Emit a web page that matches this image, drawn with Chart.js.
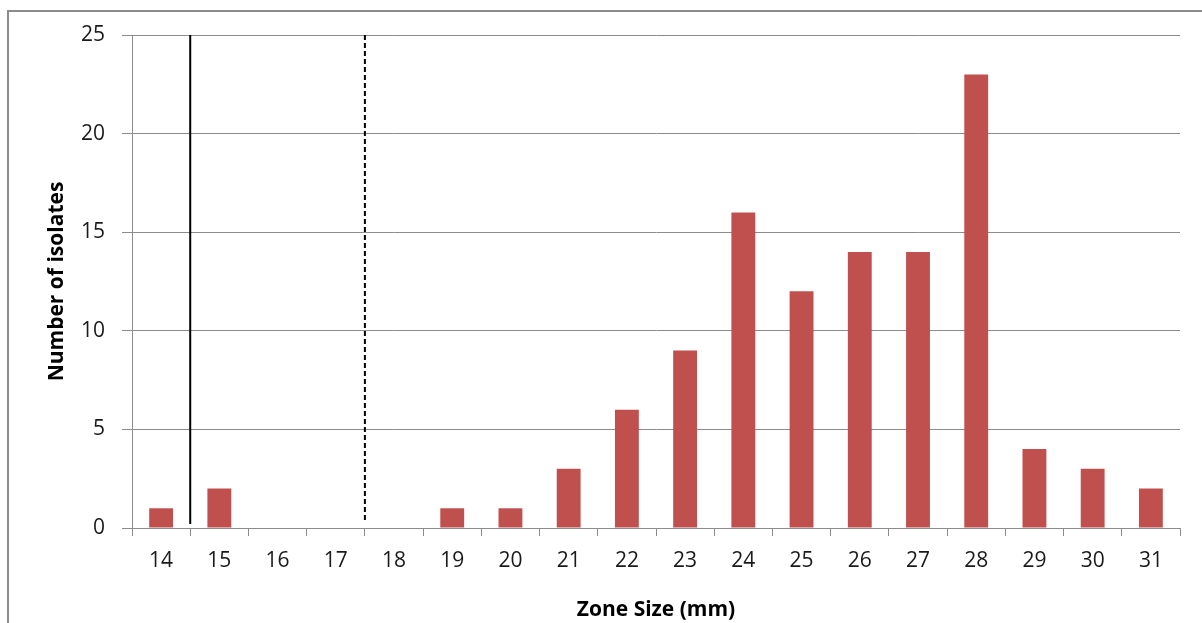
<!DOCTYPE html>
<html>
<head>
<meta charset="utf-8">
<script src="https://cdn.jsdelivr.net/npm/chart.js@4/dist/chart.umd.min.js"></script>
<style>
  html, body { margin: 0; padding: 0; background: #fff; }
  #wrap { width: 1202px; height: 623px; position: relative; }
</style>
</head>
<body>
<div id="wrap"><canvas id="c" width="1202" height="623"></canvas></div>
<script>
const categories = ['14','15','16','17','18','19','20','21','22','23','24','25','26','27','28','29','30','31'];
const isolates = [1, 2, 0, 0, 0, 1, 1, 3, 6, 9, 16, 12, 14, 14, 23, 4, 3, 2];
const yTicks = [0, 5, 10, 15, 20, 25];
// breakpoint lines, in category-index units (between 14|15 and 17|18)
const solidBreakpoint = 0.5;
const dashedBreakpoint = 3.5;

const FONT = '"Open Sans", "Liberation Sans", sans-serif';

const frame = {
  id: 'frame',
  beforeDraw(chart) {
    const ctx = chart.ctx;
    ctx.save();
    ctx.fillStyle = '#fff';
    ctx.fillRect(0, 0, chart.width, chart.height);
    ctx.strokeStyle = '#8c8c8c';
    ctx.lineWidth = 2;
    ctx.strokeRect(8, 11, 1200, 700);
    ctx.restore();
  }
};

const breakLines = {
  id: 'breakLines',
  afterDatasetsDraw(chart) {
    const ctx = chart.ctx;
    const x = chart.scales.x;
    const a = chart.chartArea;
    ctx.save();
    ctx.strokeStyle = '#000';
    ctx.lineWidth = 2;
    let px = x.getPixelForValue(solidBreakpoint);
    ctx.beginPath();
    ctx.moveTo(px, a.top);
    ctx.lineTo(px, a.bottom - 4);
    ctx.stroke();
    px = x.getPixelForValue(dashedBreakpoint);
    ctx.setLineDash([5, 3]);
    ctx.beginPath();
    ctx.moveTo(px, a.top);
    ctx.lineTo(px, a.bottom - 5);
    ctx.stroke();
    ctx.restore();
  }
};

new Chart(document.getElementById('c'), {
  type: 'bar',
  data: {
    labels: categories,
    datasets: [{
      data: isolates,
      backgroundColor: '#C0504D',
      borderWidth: 0,
      barPercentage: 1,
      categoryPercentage: 0.41
    }]
  },
  options: {
    responsive: false,
    animation: false,
    devicePixelRatio: 1,
    layout: { padding: { left: 44, top: 35, right: 22, bottom: 0 } },
    plugins: { legend: { display: false }, tooltip: { enabled: false } },
    scales: {
      x: {
        grid: { offset: true, drawOnChartArea: false, drawTicks: true, tickLength: 8, color: '#8c8c8c', lineWidth: 1 },
        border: { display: true, color: '#8c8c8c', width: 1 },
        ticks: { color: '#1a1a1a', font: { family: FONT, size: 21 }, padding: 12, maxRotation: 0, autoSkip: false },
        title: { display: true, text: 'Zone Size (mm)', color: '#000', font: { family: FONT, size: 21, weight: 'bold' }, padding: { top: 9, bottom: 0 } },
        afterFit(s) { s.height = 95; }
      },
      y: {
        min: 0, max: 25,
        afterBuildTicks(s) { s.ticks = yTicks.map(v => ({ value: v })); },
        grid: { color: '#8c8c8c', lineWidth: 1, drawTicks: true, tickLength: 10 },
        border: { display: true, color: '#8c8c8c', width: 1 },
        ticks: { color: '#1a1a1a', font: { family: FONT, size: 21 }, padding: 17 },
        title: { display: true, text: 'Number of isolates', color: '#000', font: { family: FONT, size: 21, weight: 'bold' }, padding: { top: 0, bottom: 0 } },
        afterFit(s) { s.width = 88; }
      }
    }
  },
  plugins: [frame, breakLines]
});
</script>
</body>
</html>
